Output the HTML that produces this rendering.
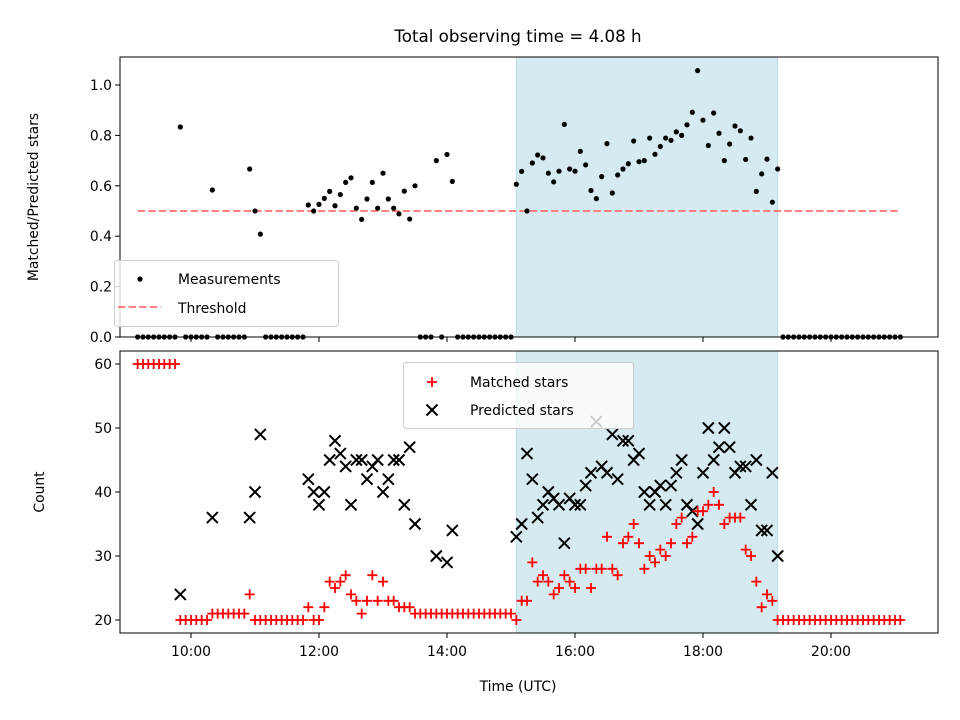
<!DOCTYPE html>
<html><head><meta charset="utf-8"><style>
body{margin:0;background:#fff}
svg{display:block;font-family:"DejaVu Sans","Liberation Sans",sans-serif}
</style></head><body>
<svg id="fig" width="960" height="720" viewBox="0 0 960 720"></svg>
<script>
const times=["09:10","09:15","09:20","09:25","09:30","09:35","09:40","09:45","09:50","09:55","10:00","10:05","10:10","10:15","10:20","10:25","10:30","10:35","10:40","10:45","10:50","10:55","11:00","11:05","11:10","11:15","11:20","11:25","11:30","11:35","11:40","11:45","11:50","11:55","12:00","12:05","12:10","12:15","12:20","12:25","12:30","12:35","12:40","12:45","12:50","12:55","13:00","13:05","13:10","13:15","13:20","13:25","13:30","13:35","13:40","13:45","13:50","13:55","14:00","14:05","14:10","14:15","14:20","14:25","14:30","14:35","14:40","14:45","14:50","14:55","15:00","15:05","15:10","15:15","15:20","15:25","15:30","15:35","15:40","15:45","15:50","15:55","16:00","16:05","16:10","16:15","16:20","16:25","16:30","16:35","16:40","16:45","16:50","16:55","17:00","17:05","17:10","17:15","17:20","17:25","17:30","17:35","17:40","17:45","17:50","17:55","18:00","18:05","18:10","18:15","18:20","18:25","18:30","18:35","18:40","18:45","18:50","18:55","19:00","19:05","19:10","19:15","19:20","19:25","19:30","19:35","19:40","19:45","19:50","19:55","20:00","20:05","20:10","20:15","20:20","20:25","20:30","20:35","20:40","20:45","20:50","20:55","21:00","21:05"];
const matched=[60,60,60,60,60,60,60,60,20,20,20,20,20,20,21,21,21,21,21,21,21,24,20,20,20,20,20,20,20,20,20,20,22,20,20,22,26,25,26,27,24,23,21,23,27,23,26,23,23,22,22,22,21,21,21,21,21,21,21,21,21,21,21,21,21,21,21,21,21,21,21,20,23,23,29,26,27,26,24,25,27,26,25,28,28,25,28,28,33,28,27,32,33,35,32,28,30,29,31,30,32,35,36,32,33,37,37,38,40,38,35,36,36,36,31,30,26,22,24,23,20,20,20,20,20,20,20,20,20,20,20,20,20,20,20,20,20,20,20,20,20,20,20,20];
const predicted=[null,null,null,null,null,null,null,null,24,null,null,null,null,null,36,null,null,null,null,null,null,36,40,49,null,null,null,null,null,null,null,null,42,40,38,40,45,48,46,44,38,45,45,42,44,45,40,42,45,45,38,47,35,null,null,null,30,null,29,34,null,null,null,null,null,null,null,null,null,null,null,33,35,46,42,36,38,40,39,38,32,39,38,38,41,43,51,44,43,49,42,48,48,45,46,40,38,40,41,38,41,43,45,38,37,35,43,50,45,47,50,47,43,44,44,38,45,34,34,43,30,null,null,null,null,null,null,null,null,null,null,null,null,null,null,null,null,null,null,null,null,null,null,null];
const threshold=[0.5];
const thresholdSpan=["09:10","21:05"];
const shadeSpan=["15:05","19:10"];
const xTicks=["10:00","12:00","14:00","16:00","18:00","20:00"];
const yTicksTop=[0,0.2,0.4,0.6,0.8,1.0];
const yTicksBot=[20,30,40,50,60];

const NS="http://www.w3.org/2000/svg";
const svg=document.getElementById('fig');
function el(tag,attrs,parent){const e=document.createElementNS(NS,tag);for(const k in attrs)e.setAttribute(k,attrs[k]);(parent||svg).appendChild(e);return e;}
function hrs(s){const p=s.split(':');return +p[0]+(+p[1])/60;}
const L=120,R=938;
const X=h=>191+(h-10)*64;
const T={top:57,bot:337,y:v=>337-v*252};
const B={top:351,bot:633,y:v=>620-(v-20)*6.4};

const gTop=el('g',{});
const gBot=el('g',{});

[[gTop,T],[gBot,B]].forEach(([g,A],i)=>{
  const r=el('rect',{x:X(hrs(shadeSpan[0])),y:A.top,width:X(hrs(shadeSpan[1]))-X(hrs(shadeSpan[0])),height:A.bot-A.top,fill:'#d5ebf1',stroke:'#bfdde7','stroke-width':1},g);
  
  
});

const th=el('line',{x1:X(hrs(thresholdSpan[0])),x2:X(hrs(thresholdSpan[1])),y1:T.y(threshold[0]),y2:T.y(threshold[0]),stroke:'#ff8080','stroke-width':2,'stroke-dasharray':'7.4,3.2'},gTop);



times.forEach((t,i)=>{
  const r=predicted[i]?matched[i]/predicted[i]:0;
  const c=el('circle',{cx:X(hrs(t)),cy:T.y(r),r:2.6,fill:'#000'},gTop);
  
  
});

times.forEach((t,i)=>{
  if(predicted[i]==null)return;
  const x=X(hrs(t)),y=B.y(predicted[i]),s=5.5;
  const p=el('path',{d:`M${x-s},${y-s}L${x+s},${y+s}M${x-s},${y+s}L${x+s},${y-s}`,stroke:'#000','stroke-width':2,fill:'none'},gBot);
  
  
});
times.forEach((t,i)=>{
  const x=X(hrs(t)),y=B.y(matched[i]),s=5;
  const p=el('path',{d:`M${x-s},${y}L${x+s},${y}M${x},${y-s}L${x},${y+s}`,stroke:'#ff0000','stroke-width':1.8,fill:'none'},gBot);
  
  
});

[[gTop,T,yTicksTop,false],[gBot,B,yTicksBot,true]].forEach(([g,A,yt,lab],k)=>{
  const f=el('rect',{x:L,y:A.top,width:R-L,height:A.bot-A.top,fill:'none',stroke:'#000','stroke-width':1},g);
  
  
  xTicks.forEach(t=>{
    const x=X(hrs(t));
    el('line',{x1:x,x2:x,y1:A.bot,y2:A.bot+5,stroke:'#000','stroke-width':1},g);
    if(lab){const tx=el('text',{x:x,y:A.bot+23,'text-anchor':'middle','font-size':13.9},g);tx.textContent=t;
      
      }
  });
  yt.forEach(v=>{
    const y=A.y(v);
    el('line',{x1:L-5,x2:L,y1:y,y2:y,stroke:'#000','stroke-width':1},g);
    const tx=el('text',{x:L-8,y:y+5,'text-anchor':'end','font-size':13.9},g);
    tx.textContent=k?String(v):v.toFixed(1);
    
    
  });
});
</script>
<svg width="960" height="720" style="position:absolute;left:0;top:0" font-family="DejaVu Sans, Liberation Sans, sans-serif">
<text x="518" y="42" text-anchor="middle" font-size="16.7">Total observing time = 4.08 h</text>
<text transform="translate(38,197) rotate(-90)" text-anchor="middle" font-size="13.9">Matched/Predicted stars</text>
<text transform="translate(44,492) rotate(-90)" text-anchor="middle" font-size="13.9">Count</text>
<text x="518" y="691" text-anchor="middle" font-size="13.9">Time (UTC)</text>
<g font-size="13.9">
<rect x="114.5" y="260.5" width="224" height="66" rx="3" fill="#fff" fill-opacity="0.8" stroke="#ccc"/>
<circle cx="140" cy="279" r="2.6" fill="#000"/>
<text x="178" y="284">Measurements</text>
<line x1="118" x2="161" y1="307" y2="307" stroke="#ff8080" stroke-width="2" stroke-dasharray="7.4,3.2"/>
<text x="178" y="313">Threshold</text>
</g>
<g font-size="13.9">
<rect x="403.5" y="362.5" width="230" height="66" rx="3" fill="#fff" fill-opacity="0.8" stroke="#ccc"/>
<path d="M427,382H437M432,377V387" stroke="#ff0000" stroke-width="1.8"/>
<text x="470" y="387">Matched stars</text>
<path d="M426.5,404.5L437.5,415.5M426.5,415.5L437.5,404.5" stroke="#000" stroke-width="2"/>
<text x="470" y="415">Predicted stars</text>
</g>
</svg>
</body></html>
